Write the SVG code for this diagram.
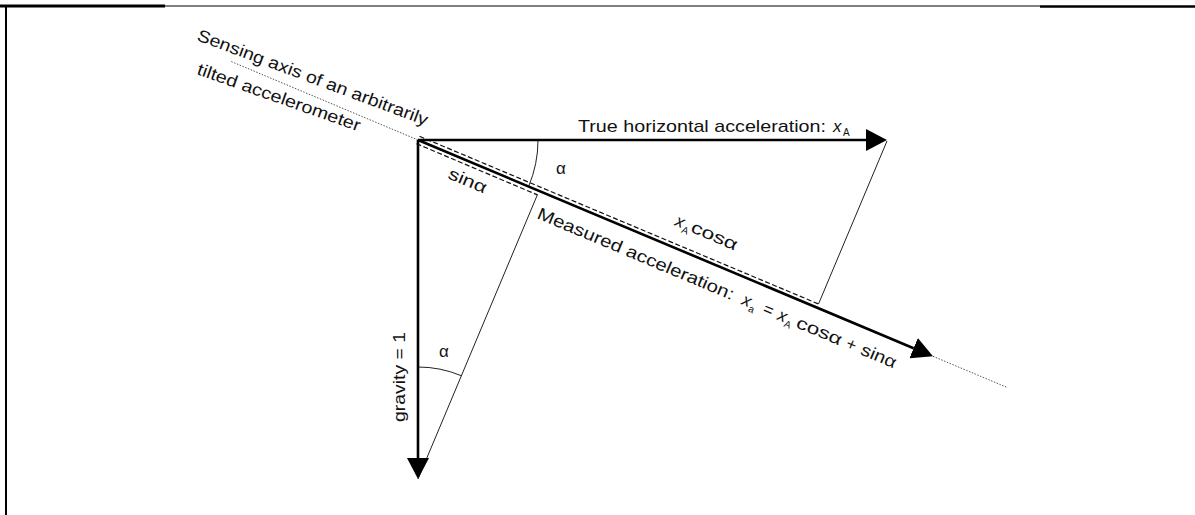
<svg xmlns="http://www.w3.org/2000/svg" width="1195" height="515" viewBox="0 0 1195 515">
<style>
text{font-family:"Liberation Sans",Arial,sans-serif;fill:#111;}
.lbl{font-size:17px;}
.sub{font-size:10px;}
.it{font-style:italic;}
.main{stroke:#000;stroke-width:2.6;fill:none;}
.thin{stroke:#222;stroke-width:1;fill:none;}
.dash{stroke:#111;stroke-width:1.2;stroke-dasharray:5,2.5;fill:none;}
.dot{stroke:#555;stroke-width:1;stroke-dasharray:1.5,1.5;fill:none;}
.frame{stroke:#000;fill:none;}
</style>
<defs>
<marker id="ah" markerUnits="userSpaceOnUse" markerWidth="22" markerHeight="22" refX="0" refY="11" orient="auto" viewBox="0 0 22 22">
<path d="M0,0 L21,11 L0,22 z" fill="#000"/>
</marker>
</defs>
<g id="frame">
<line class="frame" x1="0" y1="6" x2="165" y2="6" stroke-width="3"/>
<line class="frame" x1="165" y1="6" x2="1040" y2="6" stroke-width="1"/>
<line class="frame" x1="1040" y1="6.5" x2="1195" y2="6.5" stroke-width="2.5"/>
<line class="frame" x1="6" y1="5" x2="6" y2="515" stroke-width="2"/>
</g>
<g id="connectors">
<line class="dot" x1="418" y1="140" x2="230" y2="61"/>
<line class="dot" x1="933" y1="356.3" x2="1007" y2="387.4"/>
<line class="dash" x1="419.5" y1="136.3" x2="818.5" y2="304"/>
<line class="dash" x1="416.5" y1="143.7" x2="537.5" y2="194.9"/>
<line class="thin" x1="887" y1="141" x2="818.5" y2="304"/>
<line class="thin" x1="418" y1="479" x2="537.5" y2="194.5"/>
<path class="thin" d="M538,140 A120,120 0 0 1 528.6,186.5"/>
<path class="thin" d="M418,367 A112,112 0 0 1 461.3,375.7"/>
<line class="main" x1="418" y1="140" x2="866" y2="140" marker-end="url(#ah)"/>
<line class="main" x1="418" y1="140" x2="418" y2="458" marker-end="url(#ah)"/>
<line class="main" x1="418" y1="140" x2="913.6" y2="348.2" marker-end="url(#ah)"/>
</g>
<g id="sensing-axis-label">
<text class="lbl" transform="translate(196,40) rotate(20.5)" textLength="245" lengthAdjust="spacingAndGlyphs">Sensing axis of an arbitrarily</text>
<text class="lbl" transform="translate(196,74) rotate(19.5)" textLength="172" lengthAdjust="spacingAndGlyphs">tilted accelerometer</text>
</g>
<g id="true-horizontal">
<text class="lbl" x="578" y="132" textLength="248" lengthAdjust="spacingAndGlyphs">True horizontal acceleration:</text>
<text class="lbl it" x="833" y="132">x</text>
<text class="sub" x="843" y="136">A</text>
</g>
<g id="gravity">
<text class="lbl" font-size="16" transform="translate(405,422) rotate(-90)" textLength="90" lengthAdjust="spacingAndGlyphs">gravity = 1</text>
</g>
<g id="alpha-top"><text class="lbl" x="561" y="174" text-anchor="middle" font-size="16">α</text></g>
<g id="alpha-bottom"><text class="lbl" x="444" y="357" text-anchor="middle" font-size="16">α</text></g>
<g id="sin-label">
<text class="lbl" transform="translate(447,178) rotate(22.8)" textLength="40" lengthAdjust="spacingAndGlyphs">sinα</text>
</g>
<g id="xacos-label" transform="translate(674,225) rotate(22.8)">
<text class="lbl it" x="0" y="0">x</text>
<text class="sub" x="9" y="4">A</text>
<text class="lbl" x="17" y="0" textLength="49" lengthAdjust="spacingAndGlyphs">cosα</text>
</g>
<g id="measured-label" transform="translate(536,218) rotate(22.8)">
<text class="lbl" x="0" y="0" textLength="212" lengthAdjust="spacingAndGlyphs">Measured acceleration:</text>
<text class="lbl it" x="222" y="0">x</text>
<text class="sub" x="231" y="4">a</text>
<text class="lbl" x="245" y="0">=</text>
<text class="lbl it" x="261" y="0">x</text>
<text class="sub" x="270" y="4">A</text>
<text class="lbl" x="281" y="0" textLength="48" lengthAdjust="spacingAndGlyphs">cosα</text>
<text class="lbl" x="335" y="0">+</text>
<text class="lbl" x="351" y="0" textLength="37" lengthAdjust="spacingAndGlyphs">sinα</text>
</g>
</svg>
